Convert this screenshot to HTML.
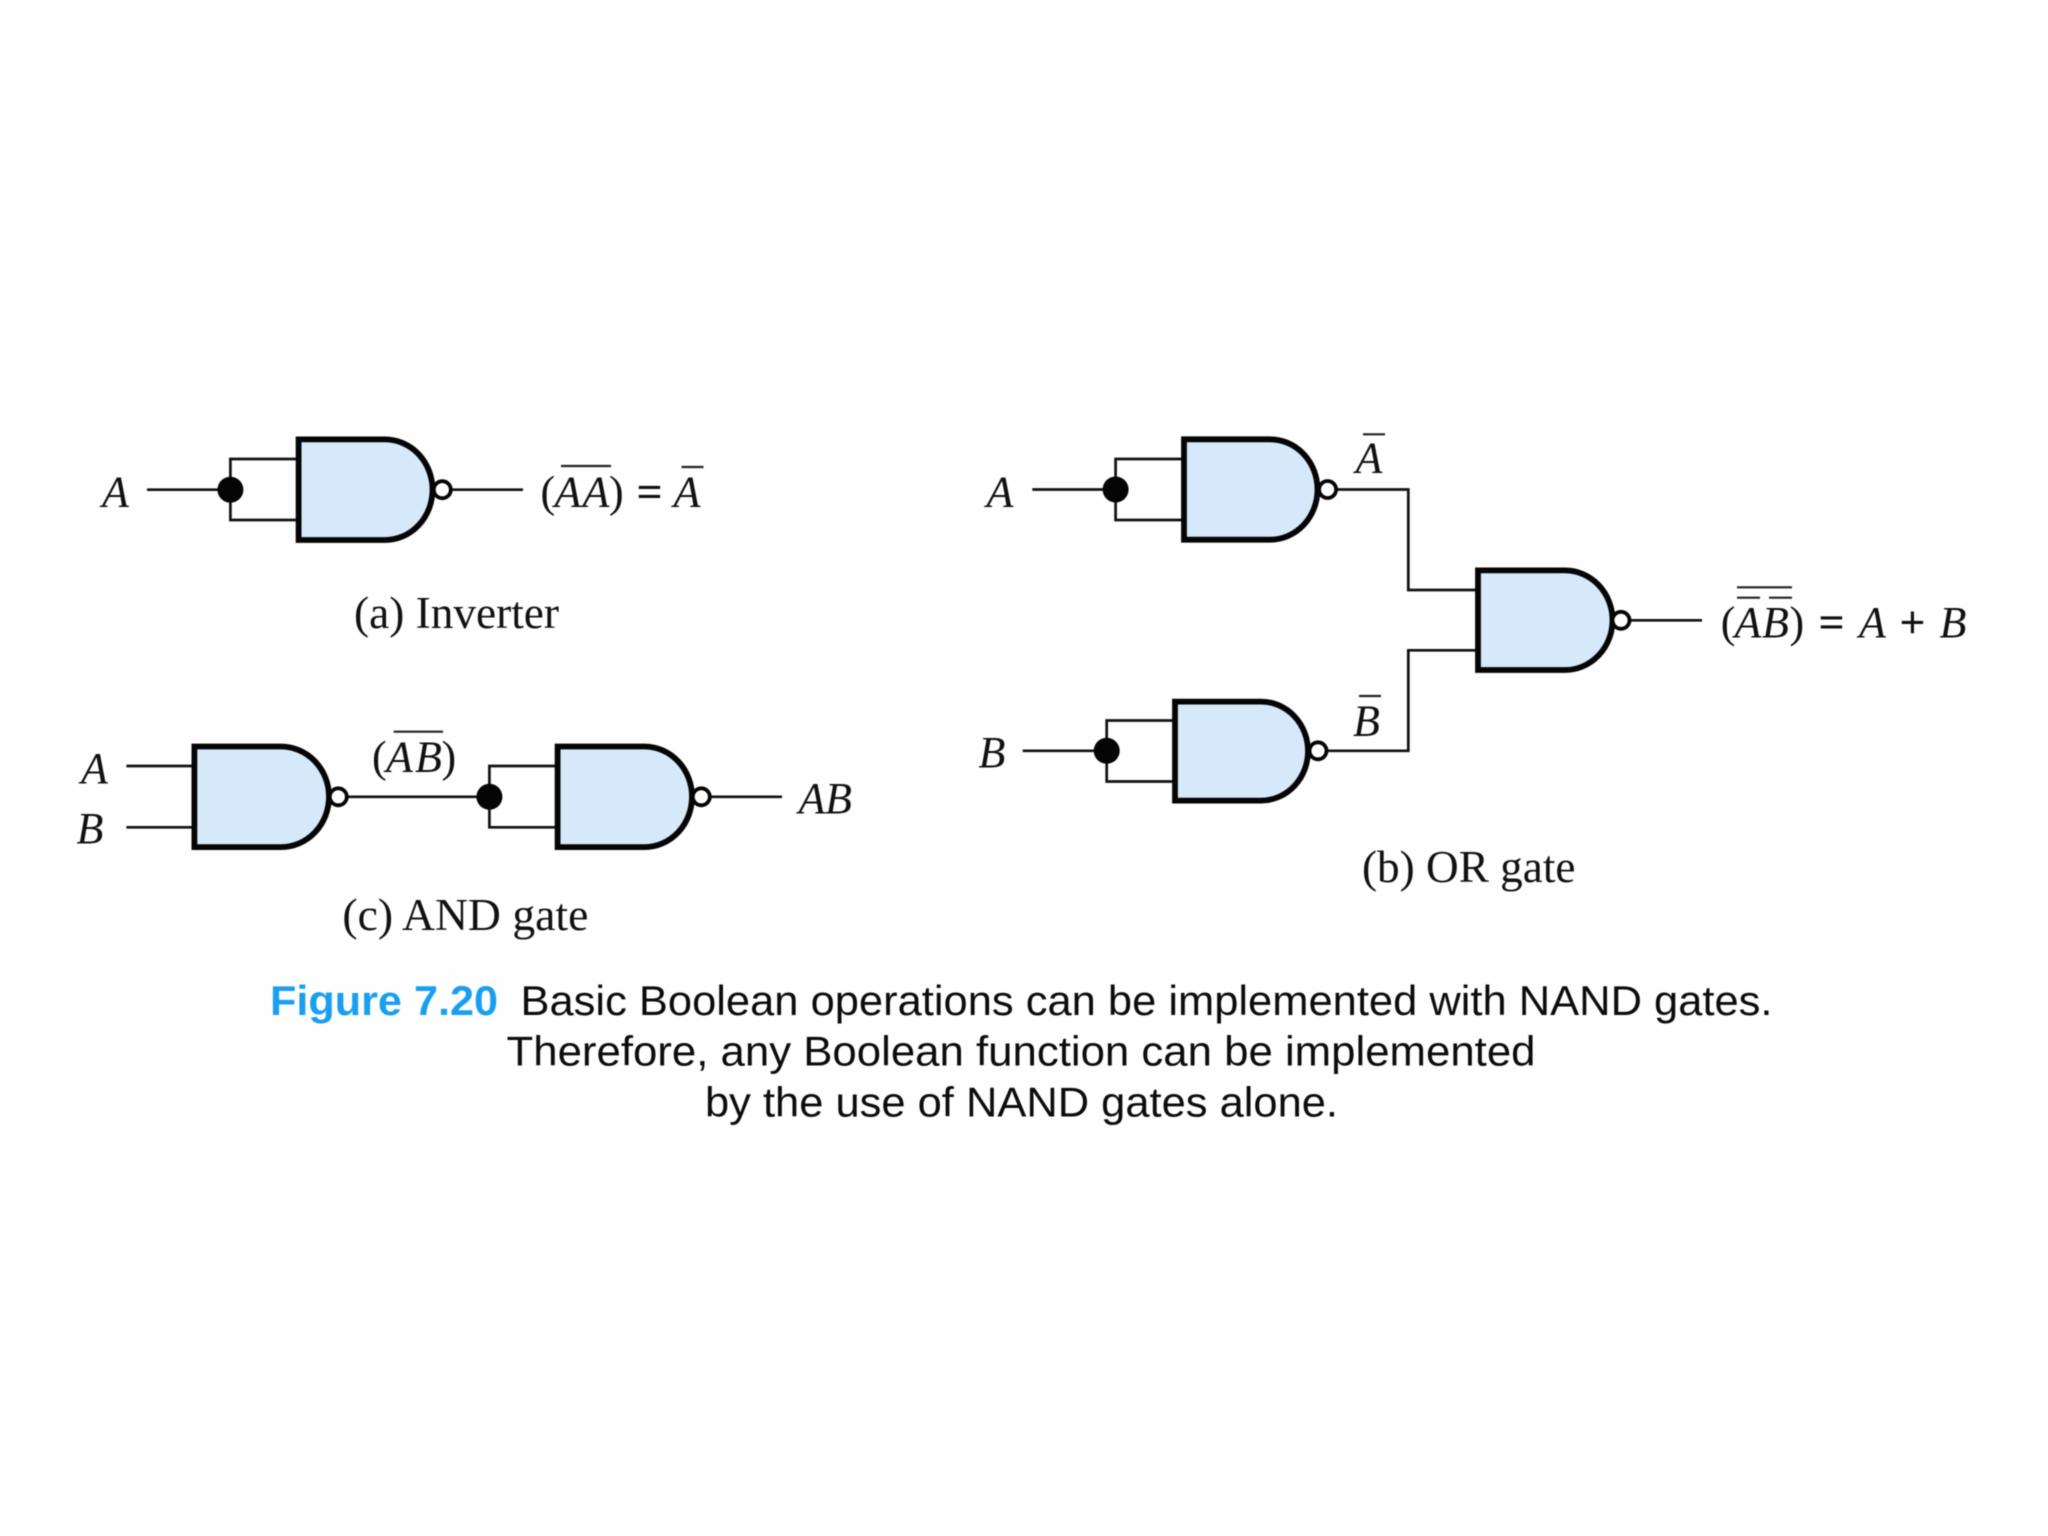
<!DOCTYPE html>
<html><head><meta charset="utf-8"><style>
html,body{margin:0;padding:0;background:#fefefe}
svg{display:block;filter:blur(.5px)}
.i{font:italic 44px "Liberation Serif",serif;fill:#111}
.r{font:44px "Liberation Serif",serif;fill:#111}
.e{font:44px "Liberation Serif",serif;fill:#111;stroke:#111;stroke-width:.9}
.c{font:45px "Liberation Serif",serif;fill:#111}
.s{font:42px "Liberation Sans",sans-serif;fill:#0c0c0c}
.f{font:bold 42px "Liberation Sans",sans-serif;fill:#1a9ff0}
.w{fill:none;stroke:#111;stroke-width:2.7}
.b{stroke:#222;stroke-width:2.2;fill:none}
.g{fill:#d6e9fb;stroke:#050505;stroke-width:5.8;stroke-linejoin:miter}
.n{fill:#fff;stroke:#050505;stroke-width:3.8}
</style></head><body>
<svg width="2048" height="1536" viewBox="0 0 2048 1536" xmlns="http://www.w3.org/2000/svg">
<rect width="2048" height="1536" fill="#fefefe"/>

<!-- (a) Inverter -->
<path class="w" d="M147 489.7H230.4M297 459H230.4V520H297M452 489.7H523"/>
<circle cx="230.4" cy="489.7" r="13" fill="#050505"/>
<path class="g" d="M298.6 439.4H385A47.5 50.3 0 0 1 432.5 489.7A47.5 50.3 0 0 1 385 540H298.6Z"/>
<circle class="n" cx="442.3" cy="489.7" r="8.5"/>
<text class="i" x="102" y="506.5">A</text>
<text class="r" x="540.5" y="506.5">(</text>
<text class="i" x="554.5" y="506.5">A</text>
<text class="i" x="582.5" y="506.5">A</text>
<text class="r" x="609" y="506.5">)</text>
<text class="e" x="637" y="506.5">=</text>
<text class="i" x="673.5" y="506.5">A</text>
<path class="b" d="M561 466H611M681.5 467H703.5"/>
<text class="c" x="354" y="628" textLength="205" lengthAdjust="spacingAndGlyphs">(a) Inverter</text>

<!-- (c) AND gate -->
<path class="w" d="M126.4 766H195M126.4 827.3H195M348 796.8H489.4M556 766H489.4V827.3H556M711 796.8H782"/>
<circle cx="489.4" cy="796.8" r="13" fill="#050505"/>
<path class="g" d="M194.4 746.5H281A48 50.3 0 0 1 329 796.8A48 50.3 0 0 1 281 847.1H194.4Z"/>
<circle class="n" cx="338.3" cy="796.8" r="8.5"/>
<path class="g" d="M557.6 746.5H644.5A47.5 50.3 0 0 1 692 796.8A47.5 50.3 0 0 1 644.5 847.1H557.6Z"/>
<circle class="n" cx="701.3" cy="796.8" r="8.5"/>
<text class="i" x="81" y="783">A</text>
<text class="i" x="76.5" y="843">B</text>
<text class="r" x="372" y="771.5">(</text>
<text class="i" x="386" y="771.5">A</text>
<text class="i" x="415" y="771.5">B</text>
<text class="r" x="441.5" y="771.5">)</text>
<path class="b" d="M393.7 731.7H443"/>
<text class="i" x="798.5" y="813">A</text>
<text class="i" x="825" y="813">B</text>
<text class="c" x="342.4" y="930" textLength="246" lengthAdjust="spacingAndGlyphs">(c) AND gate</text>

<!-- (b) OR gate -->
<path class="w" d="M1032.3 489.5H1115.6M1182 459H1115.6V520H1182M1337 489.5H1408.3V590H1477M1022.7 750.8H1106.7M1173 720.5H1106.7V781.5H1173M1328 750.8H1408.3V650.3H1477M1631 620.3H1702"/>
<circle cx="1115.6" cy="489.5" r="13" fill="#050505"/>
<path class="g" d="M1184 439.3H1270A47.5 50.2 0 0 1 1317.5 489.5A47.5 50.2 0 0 1 1270 539.7H1184Z"/>
<circle class="n" cx="1327.6" cy="489.5" r="8.5"/>
<circle cx="1106.7" cy="750.8" r="13" fill="#050505"/>
<path class="g" d="M1175 701.6H1261A47 49.5 0 0 1 1308 751.1A47 49.5 0 0 1 1261 800.6H1175Z"/>
<circle class="n" cx="1318" cy="750.8" r="8.5"/>
<path class="g" d="M1478 570.4H1565A47.5 49.8 0 0 1 1612.5 620.2A47.5 49.8 0 0 1 1565 670H1478Z"/>
<circle class="n" cx="1621" cy="620.3" r="8.5"/>
<text class="i" x="986.5" y="506.7">A</text>
<text class="i" x="978.5" y="767">B</text>
<text class="i" x="1355.5" y="472.7">A</text>
<path class="b" d="M1363 434.3H1385"/>
<text class="i" x="1353" y="735.5">B</text>
<path class="b" d="M1359 696H1381"/>
<text class="r" x="1720.8" y="637">(</text>
<text class="i" x="1734.5" y="637">A</text>
<text class="i" x="1762" y="637">B</text>
<text class="r" x="1789.5" y="637">)</text>
<text class="e" x="1819" y="637">=</text>
<text class="i" x="1859" y="637">A</text>
<text class="e" x="1900" y="637">+</text>
<text class="i" x="1939.5" y="637">B</text>
<path class="b" d="M1737 587.3H1792M1737 597.7H1760M1769 597.7H1792"/>
<text class="c" x="1362" y="882" textLength="213.5" lengthAdjust="spacingAndGlyphs">(b) OR gate</text>

<!-- Caption -->
<text class="f" x="270" y="1015" textLength="228" lengthAdjust="spacingAndGlyphs">Figure 7.20</text>
<text class="s" x="520.5" y="1015" textLength="1252" lengthAdjust="spacingAndGlyphs">Basic Boolean operations can be implemented with NAND gates.</text>
<text class="s" x="506.5" y="1065.7" textLength="1029" lengthAdjust="spacingAndGlyphs">Therefore, any Boolean function can be implemented</text>
<text class="s" x="705" y="1116.7" textLength="633" lengthAdjust="spacingAndGlyphs">by the use of NAND gates alone.</text>
</svg>
</body></html>
